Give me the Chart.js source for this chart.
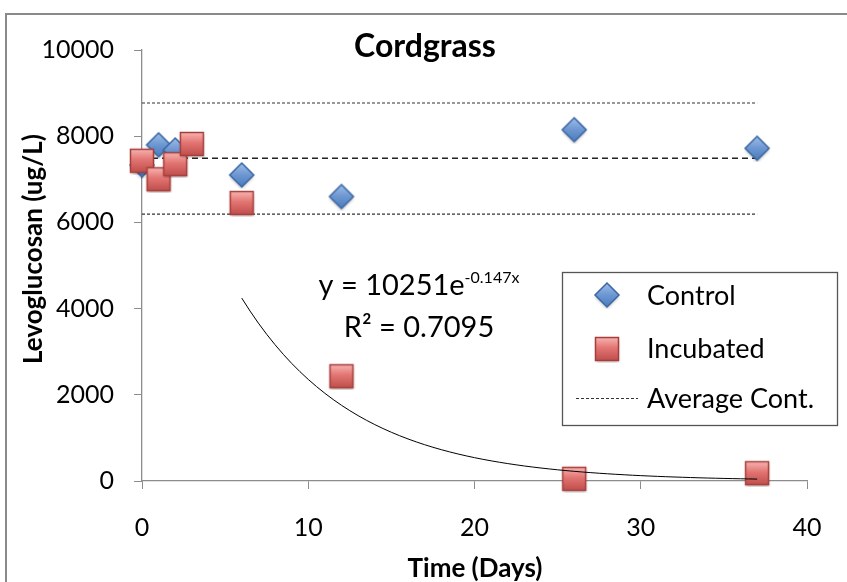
<!DOCTYPE html>
<html>
<head>
<meta charset="utf-8">
<title>Cordgrass</title>
<script src="https://cdn.jsdelivr.net/npm/chart.js@4.4.1/dist/chart.umd.min.js"></script>
<style>
  html, body { margin: 0; padding: 0; background: #fff; }
  #wrap { position: relative; width: 847px; height: 582px; }
</style>
</head>
<body>
<div id="wrap"><canvas id="cordChart" width="847" height="582"></canvas></div>
<script>
// data
const controlDays = [0, 1, 2, 6, 12, 26, 37];
const controlValues = [7330, 7800, 7680, 7100, 6600, 8150, 7720];
const incubatedDays = [0, 1, 2, 3, 6, 12, 26, 37];
const incubatedValues = [7430, 7000, 7350, 7820, 6450, 2430, 50, 180];
const avgDays = [0, 37];
const avgMean = [7490, 7490];
const avgUpper = [8770, 8770];
const avgLower = [6190, 6190];
// Excel exponential trendline shown on the chart
const trendA = 10251;
const trendB = -0.147;
const trendDays = [6, 37];
const xTicks = [0, 10, 20, 30, 40];
const yTicks = [0, 2000, 4000, 6000, 8000, 10000];

const FONT = 'Lato, "Open Sans", sans-serif';

function toPoints(xs, ys) {
    return xs.map((x, i) => ({ x: x, y: ys[i] }));
}

// trend curve sampled from the equation
const trendPoints = [];
for (let d = trendDays[0]; d <= trendDays[1] + 0.001; d += 0.5) {
    trendPoints.push({ x: d, y: trendA * Math.exp(trendB * d) });
}

// marker images (gradient fill like the Excel ones)
function makeDiamond() {
    const c = document.createElement('canvas');
    c.width = 28; c.height = 28;
    const g = c.getContext('2d');
    const grad = g.createLinearGradient(0, 2, 0, 26);
    grad.addColorStop(0, '#9dbde8');
    grad.addColorStop(0.5, '#6d97d2');
    grad.addColorStop(1, '#4a7bbd');
    g.shadowColor = 'rgba(0,0,0,0.25)';
    g.shadowBlur = 3;
    g.shadowOffsetY = 2;
    g.beginPath();
    g.moveTo(14, 2); g.lineTo(26, 14); g.lineTo(14, 26); g.lineTo(2, 14);
    g.closePath();
    g.fillStyle = grad;
    g.fill();
    g.shadowColor = 'transparent';
    g.lineWidth = 1.5;
    g.strokeStyle = '#3b67a3';
    g.stroke();
    return c;
}

function makeSquare() {
    const c = document.createElement('canvas');
    c.width = 28; c.height = 28;
    const g = c.getContext('2d');
    const grad = g.createLinearGradient(0, 3, 0, 25);
    grad.addColorStop(0, '#f7b0ae');
    grad.addColorStop(0.45, '#e27471');
    grad.addColorStop(1, '#c0504d');
    g.shadowColor = 'rgba(0,0,0,0.25)';
    g.shadowBlur = 3;
    g.shadowOffsetY = 2;
    g.fillStyle = grad;
    g.fillRect(2.5, 2.5, 23, 23);
    g.shadowColor = 'transparent';
    g.lineWidth = 1.5;
    g.strokeStyle = '#a53e3b';
    g.strokeRect(2.5, 2.5, 23, 23);
    return c;
}

const diamondImg = makeDiamond();
const squareImg = makeSquare();

// extra texts, frame and legend box
const decorPlugin = {
    id: 'decor',
    beforeDraw(chart) {
        const ctx = chart.ctx;
        ctx.save();
        ctx.strokeStyle = '#8a8a8a';
        ctx.lineWidth = 2;
        ctx.strokeRect(6, 14, 900, 700);
        ctx.restore();
    },
    afterDraw(chart) {
        const ctx = chart.ctx;
        ctx.save();
        ctx.fillStyle = '#000';

        // title
        ctx.font = 'bold 32px ' + FONT;
        ctx.textAlign = 'center';
        ctx.textBaseline = 'alphabetic';
        ctx.fillText('Cordgrass', 425, 57);

        // axis titles
        ctx.font = 'bold 26px ' + FONT;
        ctx.fillText('Time (Days)', 475, 577);
        ctx.save();
        ctx.translate(42, 249);
        ctx.rotate(-Math.PI / 2);
        ctx.fillText('Levoglucosan (ug/L)', 0, 0);
        ctx.restore();

        // trendline equation
        ctx.textAlign = 'left';
        const main = 'y = 10251e';
        const sup = '-0.147x';
        ctx.font = '29px ' + FONT;
        const w1 = ctx.measureText(main).width;
        ctx.font = '16px ' + FONT;
        const w2 = ctx.measureText(sup).width;
        const sx = 419 - (w1 + w2) / 2;
        ctx.font = '29px ' + FONT;
        ctx.fillText(main, sx, 295);
        ctx.font = '16px ' + FONT;
        ctx.fillText(sup, sx + w1, 283);
        ctx.font = '29px ' + FONT;
        ctx.textAlign = 'center';
        ctx.fillText('R\u00b2 = 0.7095', 419, 337);

        // legend
        ctx.fillStyle = '#fff';
        ctx.fillRect(562, 272, 276, 154);
        ctx.strokeStyle = '#555';
        ctx.lineWidth = 1.3;
        ctx.strokeRect(562.5, 272.5, 275, 153);
        ctx.drawImage(diamondImg, 607 - 14, 295 - 14);
        ctx.drawImage(squareImg, 607 - 14, 349 - 14);
        ctx.beginPath();
        ctx.setLineDash([3, 2]);
        ctx.strokeStyle = '#333';
        ctx.lineWidth = 1;
        ctx.moveTo(576, 398.5);
        ctx.lineTo(638, 398.5);
        ctx.stroke();
        ctx.setLineDash([]);
        ctx.fillStyle = '#000';
        ctx.font = '27px ' + FONT;
        ctx.textAlign = 'left';
        ctx.textBaseline = 'middle';
        ctx.fillText('Control', 647, 296);
        ctx.fillText('Incubated', 647, 349);
        ctx.fillText('Average Cont.', 647, 399);
        ctx.restore();
    }
};

const chart = new Chart(document.getElementById('cordChart').getContext('2d'), {
    type: 'scatter',
    data: {
        datasets: [
            {
                label: 'Trend',
                data: trendPoints,
                showLine: true,
                borderColor: '#000',
                borderWidth: 1,
                pointRadius: 0,
                tension: 0,
                clip: false,
                order: 0
            },
            {
                label: 'Incubated',
                data: toPoints(incubatedDays, incubatedValues),
                pointStyle: squareImg,
                pointRadius: 14,
                clip: false,
                order: 1
            },
            {
                label: 'Control',
                data: toPoints(controlDays, controlValues),
                pointStyle: diamondImg,
                pointRadius: 14,
                clip: false,
                order: 2
            },
            {
                label: 'Average Cont.',
                data: toPoints(avgDays, avgMean),
                showLine: true,
                borderColor: '#222',
                borderWidth: 1.6,
                borderDash: [6, 4],
                pointRadius: 0,
                order: 3
            },
            {
                label: 'Upper',
                data: toPoints(avgDays, avgUpper),
                showLine: true,
                borderColor: '#333',
                borderWidth: 1.2,
                borderDash: [3, 2],
                pointRadius: 0,
                order: 3
            },
            {
                label: 'Lower',
                data: toPoints(avgDays, avgLower),
                showLine: true,
                borderColor: '#333',
                borderWidth: 1.2,
                borderDash: [3, 2],
                pointRadius: 0,
                order: 3
            }
        ]
    },
    options: {
        responsive: false,
        animation: false,
        layout: { padding: { top: 50, right: 40, left: 0, bottom: 0 } },
        plugins: {
            legend: { display: false },
            tooltip: { enabled: false },
            title: { display: false }
        },
        scales: {
            x: {
                type: 'linear',
                min: xTicks[0],
                max: xTicks[xTicks.length - 1],
                afterFit: function (scale) { scale.height = 101; },
                afterBuildTicks: function (scale) { scale.ticks = xTicks.map(v => ({ value: v })); },
                border: { display: true, color: '#8c8c8c', width: 1.3 },
                grid: { drawOnChartArea: false, drawTicks: true, tickLength: 8, color: '#8c8c8c' },
                ticks: { color: '#000', padding: 24, font: { family: FONT, size: 25 }, callback: v => String(v) }
            },
            y: {
                type: 'linear',
                min: yTicks[0],
                max: yTicks[yTicks.length - 1],
                afterFit: function (scale) { scale.width = 142; },
                afterBuildTicks: function (scale) { scale.ticks = yTicks.map(v => ({ value: v })); },
                border: { display: true, color: '#8c8c8c', width: 1.3 },
                grid: { drawOnChartArea: false, drawTicks: true, tickLength: 8, color: '#8c8c8c' },
                ticks: { color: '#000', padding: 20, font: { family: FONT, size: 25 }, callback: v => String(v) }
            }
        }
    },
    plugins: [decorPlugin]
});
</script>
</body>
</html>
